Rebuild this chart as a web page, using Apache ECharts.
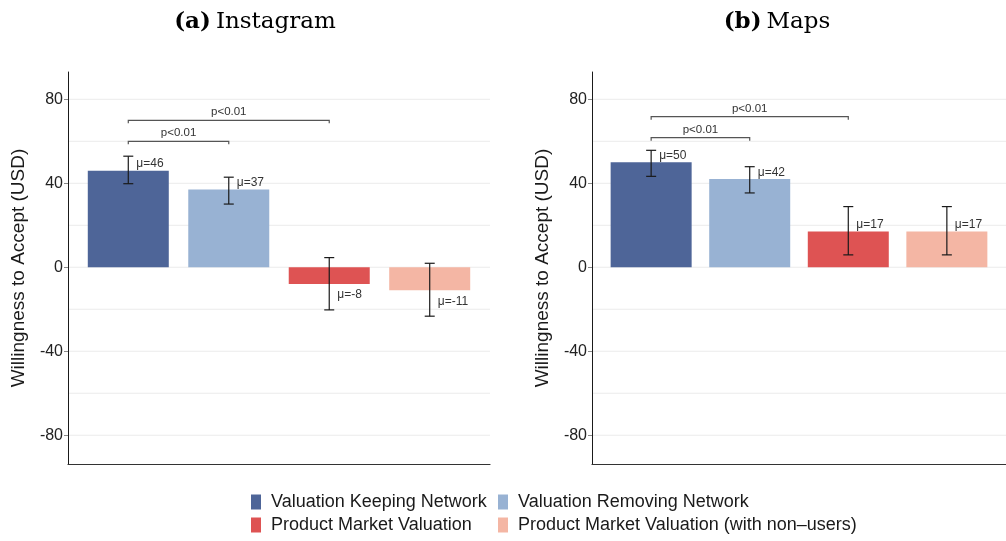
<!DOCTYPE html>
<html>
<head>
<meta charset="utf-8">
<script src="https://cdn.jsdelivr.net/npm/echarts@6/dist/echarts.min.js"></script>
<style>
html,body{margin:0;padding:0;background:#fff;}
#chart{width:1006px;height:541px;}
</style>
</head>
<body>
<div id="chart"></div>
<script>
// ---- data ----
const categories = ['Valuation Keeping Network', 'Valuation Removing Network', 'Product Market Valuation', 'Product Market Valuation (with non\u2013users)'];
const catPos = [1, 2, 3, 4];
const instaMean = [46, 37, -8, -11];
const instaLow = [39.8, 30.1, -20.3, -23.3];
const instaHigh = [52.9, 42.9, 4.6, 1.9];
const mapsMean = [50, 42, 17, 17];
const mapsLow = [43.3, 35.4, 5.9, 5.9];
const mapsHigh = [55.7, 47.9, 28.9, 28.9];
const instaBrackets = [[1, 2, 60, 'p<0.01'], [1, 3, 70, 'p<0.01']];
const mapsBrackets = [[1, 2, 61.7, 'p<0.01'], [1, 3, 71.7, 'p<0.01']];
const yTickLabels = [-80, -40, 0, 40, 80];
const gridValues = [-80, -60, -40, -20, 0, 20, 40, 60, 80];
const panelTitles = [['(a)', 'Instagram'], ['(b)', 'Maps']];
const yTitle = 'Willingness to Accept (USD)';

// ---- styles ----
const colors = ['#4E6598', '#98B2D3', '#DE5353', '#F4B6A4'];
const FONT = "'Liberation Sans', Arial, sans-serif";
const X_MIN = 0.4, X_MAX = 4.6, Y_MIN = -93.7, Y_MAX = 93;

const chart = echarts.init(document.getElementById('chart'), null, {renderer: 'canvas'});

function panelSeries(gi, means, lows, highs, brackets) {
  const s = [];
  // gridlines
  s.push({
    type: 'custom', xAxisIndex: gi, yAxisIndex: gi, z: 1, silent: true,
    data: gridValues.map(v => [X_MIN, v, X_MAX]),
    encode: {x: [0, 2], y: 1},
    renderItem: (p, api) => {
      const a = api.coord([api.value(0), api.value(1)]);
      const b = api.coord([api.value(2), api.value(1)]);
      return {type: 'line', shape: {x1: a[0] + 1, y1: a[1], x2: b[0], y2: b[1]},
        style: {stroke: '#EBEBEB', lineWidth: 1}};
    }
  });
  // bars
  categories.forEach((c, i) => {
    s.push({
      type: 'bar', name: c, xAxisIndex: gi, yAxisIndex: gi, z: 2,
      stack: 'p' + gi, barWidth: 81,
      itemStyle: {color: colors[i]},
      data: [[catPos[i], means[i]]]
    });
  });
  // error bars
  s.push({
    type: 'custom', xAxisIndex: gi, yAxisIndex: gi, z: 3, silent: true,
    data: catPos.map((x, i) => [x, lows[i], highs[i]]),
    encode: {x: 0, y: [1, 2]},
    renderItem: (p, api) => {
      const lo = api.coord([api.value(0), api.value(1)]);
      const hi = api.coord([api.value(0), api.value(2)]);
      const h = 5;
      const st = {stroke: '#1a1a1a', lineWidth: 1.2};
      return {type: 'group', children: [
        {type: 'line', shape: {x1: lo[0], y1: lo[1], x2: hi[0], y2: hi[1]}, style: st},
        {type: 'line', shape: {x1: lo[0] - h, y1: lo[1], x2: lo[0] + h, y2: lo[1]}, style: st},
        {type: 'line', shape: {x1: hi[0] - h, y1: hi[1], x2: hi[0] + h, y2: hi[1]}, style: st}
      ]};
    }
  });
  // mean labels
  s.push({
    type: 'custom', xAxisIndex: gi, yAxisIndex: gi, z: 4, silent: true,
    data: catPos.map((x, i) => [x, means[i]]),
    encode: {x: 0, y: 1},
    renderItem: (p, api) => {
      const v = api.value(1);
      const c = api.coord([api.value(0), v]);
      return {type: 'text', style: {
        x: c[0] + 8, y: v >= 0 ? c[1] - 6.5 : c[1] + 11,
        text: '\u03bc=' + v, fill: '#333', font: '12px ' + FONT,
        align: 'left', verticalAlign: 'middle'}};
    }
  });
  // significance brackets
  s.push({
    type: 'custom', xAxisIndex: gi, yAxisIndex: gi, z: 4, silent: true,
    data: brackets,
    encode: {x: [0, 1], y: 2},
    renderItem: (p, api) => {
      const d = brackets[p.dataIndex];
      const a = api.coord([d[0], d[2]]);
      const b = api.coord([d[1], d[2]]);
      return {type: 'group', children: [
        {type: 'polyline', shape: {points: [[a[0], a[1] + 3], [a[0], a[1]], [b[0], b[1]], [b[0], b[1] + 3]]},
          style: {stroke: '#555', lineWidth: 1.2, fill: null}},
        {type: 'text', style: {x: (a[0] + b[0]) / 2, y: a[1] - 8, text: d[3], fill: '#333',
          font: '11.5px ' + FONT, align: 'center', verticalAlign: 'middle'}}
      ]};
    }
  });
  return s;
}

function yAxisOpt(gi) {
  return {
    type: 'value', gridIndex: gi, min: Y_MIN, max: Y_MAX, z: 6,
    name: yTitle, nameLocation: 'middle', nameGap: 40, nameRotate: 90,
    nameTextStyle: {fontSize: 19, color: '#1a1a1a', fontFamily: FONT},
    axisLine: {show: true, lineStyle: {color: '#1a1a1a', width: 1}},
    axisTick: {show: true, length: 4, customValues: yTickLabels, lineStyle: {color: '#888'}},
    axisLabel: {customValues: yTickLabels, fontSize: 16, color: '#222', fontFamily: FONT, margin: 5},
    splitLine: {show: false}
  };
}
function xAxisOpt(gi) {
  return {
    type: 'value', gridIndex: gi, min: X_MIN, max: X_MAX, z: 6,
    axisLine: {show: true, onZero: false, lineStyle: {color: '#333', width: 1.2}},
    axisTick: {show: false}, axisLabel: {show: false}, splitLine: {show: false}
  };
}

const legendCommon = {
  orient: 'vertical', top: 493, height: 48, padding: 0,
  itemWidth: 10, itemHeight: 15, itemGap: 5, icon: 'rect',
  selectedMode: false,
  textStyle: {fontSize: 18, color: '#1a1a1a', fontFamily: FONT, lineHeight: 15, padding: [0, 0, 0, 5]}
};

const option = {
  backgroundColor: '#fff',
  animation: false,
  title: panelTitles.map((t, i) => ({
    text: '{b|' + t[0] + '} {n|' + t[1] + '}',
    left: i === 0 ? 250 : 772, top: 6, textAlign: 'center',
    textStyle: {fontWeight: 'normal', rich: {
      b: {fontFamily: "'DejaVu Serif', serif", fontWeight: 'bold', fontSize: 23, color: '#000'},
      n: {fontFamily: "'DejaVu Serif', serif", fontWeight: 'normal', fontSize: 23, color: '#000'}
    }}
  })),
  legend: [
    Object.assign({}, legendCommon, {left: 251, data: [categories[0], categories[2]]}),
    Object.assign({}, legendCommon, {left: 498, data: [categories[1], categories[3]]})
  ],
  grid: [
    {left: 68, top: 72, width: 422, height: 392, containLabel: false},
    {left: 592, top: 72, width: 423, height: 392, containLabel: false}
  ],
  xAxis: [xAxisOpt(0), xAxisOpt(1)],
  yAxis: [yAxisOpt(0), yAxisOpt(1)],
  series: [].concat(
    panelSeries(0, instaMean, instaLow, instaHigh, instaBrackets),
    panelSeries(1, mapsMean, mapsLow, mapsHigh, mapsBrackets)
  )
};
chart.setOption(option);
</script>
</body>
</html>
